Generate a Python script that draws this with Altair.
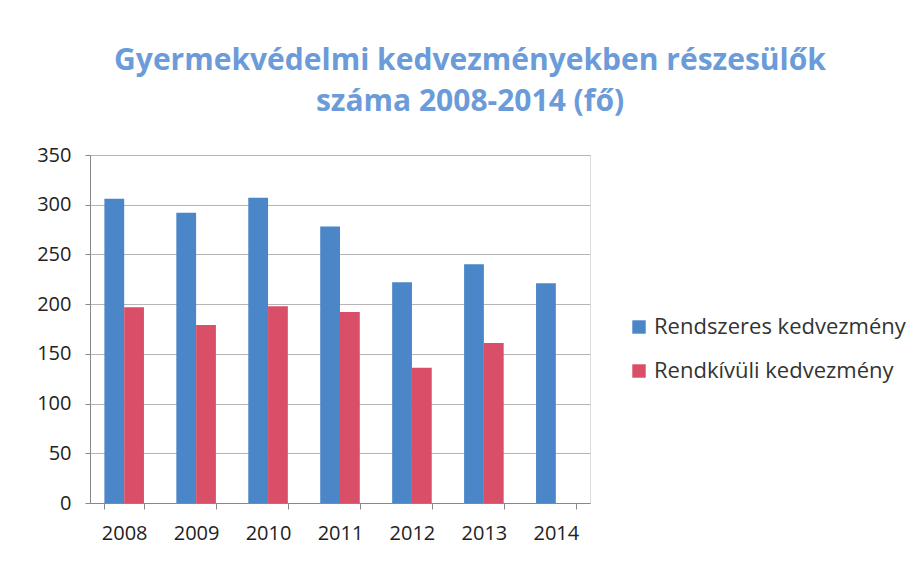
import altair as alt
import pandas as pd

years = ["2008", "2009", "2010", "2011", "2012", "2013", "2014"]
rendszeres = [306, 292, 307, 278, 222, 240, 221]
rendkivuli = [197, 179, 198, 192, 136, 161, None]
series = ["Rendszeres kedvezmény", "Rendkívüli kedvezmény"]
colors = ["#4a86c8", "#d94f68"]

rows = []
for i, y in enumerate(years):
    rows.append({"year": y, "series": series[0], "value": rendszeres[i]})
    if rendkivuli[i] is not None:
        rows.append({"year": y, "series": series[1], "value": rendkivuli[i]})
df = pd.DataFrame(rows)

chart = alt.Chart(df).mark_bar().encode(
    x=alt.X("year:N", title=None, sort=years,
            scale=alt.Scale(paddingInner=0.45, paddingOuter=0.2),
            axis=alt.Axis(labelAngle=0, labelFontSize=20, labelPadding=14,
                          labelColor="#222222", tickBand="extent", domainColor="#888888",
                          tickColor="#888888", tickSize=6, labelFont="Open Sans")),
    xOffset=alt.XOffset("series:N", sort=series),
    y=alt.Y("value:Q", title=None,
            scale=alt.Scale(domain=[0, 350]),
            axis=alt.Axis(values=[0, 50, 100, 150, 200, 250, 300, 350], labelFontSize=20,
                          labelPadding=14, labelColor="#222222", gridColor="#b5b5b5",
                          domainColor="#888888", tickColor="#888888", tickSize=5,
                          labelFont="Open Sans")),
    color=alt.Color("series:N", sort=series,
                    scale=alt.Scale(domain=series, range=colors),
                    legend=alt.Legend(title=None, orient="none", legendX=538, legendY=161,
                                      labelFontSize=22, labelColor="#333333",
                                      labelLimit=400,
                                      symbolType="square", symbolSize=180,
                                      symbolStrokeWidth=0, rowPadding=22,
                                      labelFont="Open Sans")),
).properties(
    width=500,
    height=348,
    autosize=alt.AutoSizeParams(type="none"),
    padding={"left": 82, "top": 147, "right": 320, "bottom": 53},
    title=alt.TitleParams(
        text=["Gyermekvédelmi kedvezményekben részesülők", "száma 2008-2014 (fő)"],
        fontSize=30, font="Open Sans", fontWeight="bold", color="#6b9bd8",
        anchor="middle", dx=130, offset=28, lineHeight=41),
).configure_view(stroke=None).configure(background="white")

chart.save("out.html", embed_options={"renderer": "svg", "actions": False})
